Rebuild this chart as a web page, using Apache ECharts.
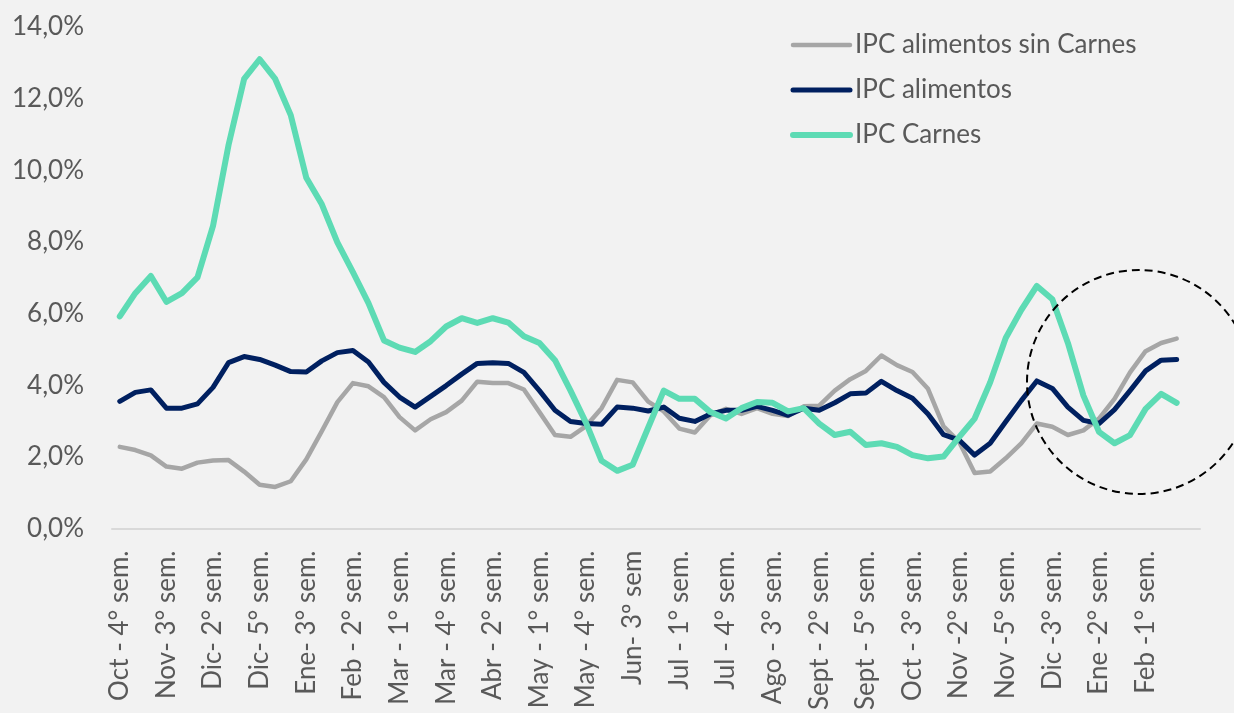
<!DOCTYPE html>
<html>
<head>
<meta charset="utf-8">
<script src="https://cdn.jsdelivr.net/npm/echarts@6/dist/echarts.min.js"></script>
<style>
html,body{margin:0;padding:0;background:#f2f2f2;}
#chart{width:1234px;height:713px;}
</style>
</head>
<body>
<div id="chart"></div>
<script>
// semanas (la ultima queda vacia, como en el grafico original)
var semanas = [
	"Oct - 4° sem.","Nov - 1° sem.","Nov - 2° sem.","Nov- 3° sem.","Nov - 4° sem.","Dic - 1° sem.",
	"Dic- 2° sem.","Dic - 3° sem.","Dic - 4° sem.","Dic- 5° sem.","Ene - 1° sem.","Ene - 2° sem.",
	"Ene- 3° sem.","Ene - 4° sem.","Feb - 1° sem.","Feb - 2° sem.","Feb - 3° sem.","Feb - 4° sem.",
	"Mar - 1° sem.","Mar - 2° sem.","Mar - 3° sem.","Mar - 4° sem.","Mar - 5° sem.","Abr - 1° sem.",
	"Abr - 2° sem.","Abr - 3° sem.","Abr - 4° sem.","May - 1° sem.","May - 2° sem.","May - 3° sem.",
	"May - 4° sem.","Jun - 1° sem.","Jun - 2° sem.","Jun- 3º sem","Jun - 4° sem.","Jun - 5° sem.",
	"Jul - 1° sem.","Jul - 2° sem.","Jul - 3° sem.","Jul - 4° sem.","Ago - 1° sem.","Ago - 2° sem.",
	"Ago - 3° sem.","Ago - 4° sem.","Sept - 1° sem.","Sept - 2° sem.","Sept - 3° sem.","Sept - 4° sem.",
	"Sept - 5° sem.","Oct - 1° sem.","Oct - 2° sem.","Oct - 3° sem.","Oct - 4° sem","Nov - 1° sem",
	"Nov -2° sem.","Nov - 3° sem.","Nov - 4° sem.","Nov -5° sem.","Dic - 1° sem","Dic - 2° sem",
	"Dic -3° sem.","Dic - 4° sem","Ene - 1° sem","Ene -2° sem.","Ene - 3° sem","Ene - 4° sem",
	"Feb -1° sem.","Feb - 2° sem","Feb - 3° sem",""
];

var ipcSinCarnes = [
	2.28,2.19,2.04,1.73,1.67,1.84,1.90,1.91,1.59,1.22,1.16,1.32,1.93,2.72,3.53,4.06,3.97,3.67,
	3.11,2.74,3.05,3.25,3.57,4.10,4.06,4.06,3.88,3.25,2.61,2.56,2.86,3.36,4.15,4.08,3.54,
	3.27,2.79,2.68,3.16,3.34,3.20,3.36,3.20,3.14,3.41,3.43,3.85,4.17,4.40,4.83,4.56,4.37,3.90,
	2.85,2.42,1.55,1.59,1.96,2.38,2.93,2.84,2.61,2.74,3.07,3.62,4.36,4.95,5.18,5.30,null
];

var ipcAlimentos = [
	3.55,3.80,3.87,3.36,3.36,3.48,3.94,4.63,4.80,4.72,4.56,4.38,4.37,4.68,4.91,4.97,4.65,4.08,
	3.67,3.39,3.69,3.99,4.31,4.61,4.63,4.61,4.36,3.85,3.30,2.99,2.93,2.91,3.39,3.36,3.28,
	3.39,3.08,2.99,3.20,3.30,3.30,3.41,3.30,3.16,3.36,3.30,3.51,3.76,3.78,4.11,3.85,3.64,3.20,
	2.62,2.47,2.05,2.38,2.98,3.57,4.12,3.91,3.39,3.02,2.93,3.32,3.85,4.40,4.70,4.72,null
];

var ipcCarnes = [
	5.92,6.57,7.05,6.33,6.57,7.01,8.45,10.71,12.55,13.10,12.55,11.54,9.79,9.05,7.99,7.16,6.29,5.25,
	5.05,4.93,5.23,5.64,5.87,5.74,5.87,5.75,5.37,5.18,4.70,3.85,2.95,1.89,1.61,1.78,2.82,
	3.85,3.62,3.62,3.25,3.07,3.36,3.53,3.51,3.27,3.36,2.93,2.61,2.70,2.33,2.38,2.28,2.05,1.96,
	2.01,2.55,3.07,4.08,5.32,6.10,6.77,6.40,5.18,3.71,2.70,2.38,2.61,3.34,3.76,3.51,null
];

var nombres = ["IPC alimentos sin Carnes","IPC alimentos","IPC Carnes"];
var colores = ["#a6a6a6","#002060","#5ddbb4"];
var grosores = [4.5,5,6];
var series_datos = [ipcSinCarnes, ipcAlimentos, ipcCarnes];

var fuente = "Lato";
var gris_texto = "#595959";

var series = [];
var leyenda = [];
for (var i = 0; i < series_datos.length; i++) {
	series.push({
		name: nombres[i],
		type: 'line',
		data: series_datos[i],
		symbol: 'none',
		showSymbol: false,
		connectNulls: false,
		lineStyle: {color: colores[i], width: grosores[i], cap: 'round', join: 'round'},
		itemStyle: {color: colores[i]}
	});
	leyenda.push({
		name: nombres[i],
		lineStyle: {color: colores[i], width: grosores[i], cap: 'round'}
	});
}

var myChart = echarts.init(document.getElementById("chart"));
myChart.setOption({
	backgroundColor: '#f2f2f2',
	animation: false,
	grid: {left: 112, right: 34, top: 27, bottom: 182, containLabel: false},
	legend: {
		orient: 'vertical',
		left: 785,
		top: 27,
		itemWidth: 57,
		itemHeight: 14,
		itemGap: 19,
		data: leyenda,
		itemStyle: {opacity: 0, borderWidth: 0},
		textStyle: {fontFamily: fuente, fontSize: 26, color: gris_texto}
	},
	xAxis: {
		type: 'category',
		data: semanas,
		boundaryGap: true,
		axisLine: {lineStyle: {color: '#d9d9d9', width: 2}},
		axisTick: {show: false},
		axisLabel: {
			interval: 2,
			rotate: 90,
			margin: 22,
			fontFamily: fuente,
			fontSize: 26,
			color: gris_texto
		},
		splitLine: {show: false}
	},
	yAxis: {
		type: 'value',
		min: 0,
		max: 14,
		interval: 2,
		axisLine: {show: false},
		axisTick: {show: false},
		splitLine: {show: false},
		axisLabel: {
			margin: 28,
			fontFamily: fuente,
			fontSize: 26,
			color: gris_texto,
			formatter: function (v) { return v.toFixed(1).replace('.', ',') + '%'; }
		}
	},
	graphic: [{
		type: 'circle',
		shape: {cx: 1139, cy: 382, r: 112},
		style: {fill: null, stroke: '#000', lineWidth: 2, lineDash: [8, 5]},
		z: 100
	}],
	series: series
});
</script>
</body>
</html>
